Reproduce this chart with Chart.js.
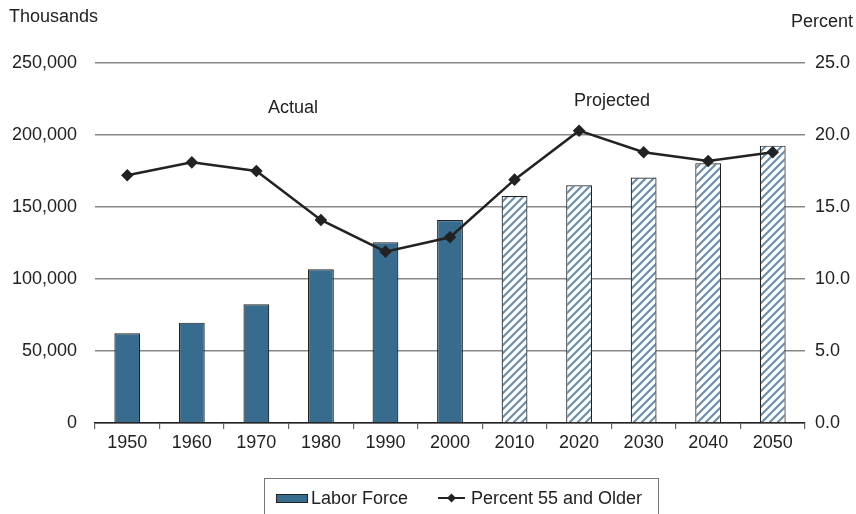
<!DOCTYPE html>
<html>
<head>
<meta charset="utf-8">
<script src="https://cdn.jsdelivr.net/npm/chart.js@4.4.0/dist/chart.umd.min.js"></script>
<style>
  body { margin: 0; background: #fff; font-family: "Liberation Sans", Arial, sans-serif; }
  #wrap { position: relative; width: 856px; height: 514px; overflow: hidden; }
  #legend {
    position: absolute; left: 264px; top: 478px; width: 395px; height: 50px;
    border: 1px solid #777; box-sizing: border-box; font-size: 18px; color: #222;
  }
  #legend .item { position: absolute; top: 8px; line-height: 22px; }
</style>
</head>
<body>
<div id="wrap">
  <canvas id="chart" width="856" height="514"></canvas>
  <div id="legend">
    <span style="position:absolute;left:11px;top:15px;width:30px;height:7px;background:#386c8e;border:1px solid #222;"></span>
    <span class="item" style="left:46px;">Labor Force</span>
    <svg style="position:absolute;left:173px;top:12px;" width="27" height="14">
      <line x1="0" y1="7" x2="27" y2="7" stroke="#222" stroke-width="2"/>
      <polygon points="13.5,2.5 18,7 13.5,11.5 9,7" fill="#222"/>
    </svg>
    <span class="item" style="left:206px;">Percent 55 and Older</span>
  </div>
</div>
<script>
// categories and values
const years = ['1950', '1960', '1970', '1980', '1990', '2000', '2010', '2020', '2030', '2040', '2050'];
const laborForce = [62300, 69700, 82400, 106700, 125500, 140900, 157600, 165100, 170400, 180400, 192600];
const pct55 = [17.2, 18.1, 17.5, 14.1, 11.9, 12.9, 16.9, 20.3, 18.8, 18.2, 18.8];
const projected = [false, false, false, false, false, false, true, true, true, true, true];

const leftTicks = [0, 50000, 100000, 150000, 200000, 250000];
const rightTicks = [0, 5, 10, 15, 20, 25];

// hatch pattern for the projected bars
function makeHatch() {
  const c = document.createElement('canvas');
  c.width = 8; c.height = 8;
  const g = c.getContext('2d');
  g.fillStyle = '#fff';
  g.fillRect(0, 0, 8, 8);
  g.strokeStyle = '#6a8fab';
  g.lineWidth = 2.2;
  g.beginPath();
  g.moveTo(-2, 10); g.lineTo(10, -2);
  g.moveTo(-2, 2); g.lineTo(2, -2);
  g.moveTo(6, 10); g.lineTo(10, 6);
  g.stroke();
  return g.createPattern(c, 'repeat');
}
const hatch = makeHatch();

const barColors = projected.map(p => p ? hatch : '#386c8e');

// text labels drawn on the canvas
const textPlugin = {
  id: 'texts',
  afterDraw(chart) {
    const ctx = chart.ctx;
    ctx.save();
    ctx.fillStyle = '#222';
    ctx.font = '18px "Liberation Sans", Arial, sans-serif';
    ctx.textBaseline = 'middle';
    ctx.textAlign = 'left';
    ctx.fillText('Thousands', 9, 17);
    ctx.textAlign = 'right';
    ctx.fillText('Percent', 853, 22);
    ctx.textAlign = 'center';
    ctx.fillText('Actual', 293, 108);
    ctx.fillText('Projected', 612, 101);
    ctx.restore();
  }
};

const ctx = document.getElementById('chart').getContext('2d');
const chart = new Chart(ctx, {
  type: 'bar',
  data: {
    labels: years,
    datasets: [
      {
        type: 'line',
        label: 'Percent 55 and Older',
        data: pct55,
        yAxisID: 'y1',
        borderColor: '#222',
        borderWidth: 2.5,
        pointStyle: 'rectRot',
        pointRadius: 4.5,
        pointBackgroundColor: '#222',
        pointBorderColor: '#222',
        tension: 0,
        order: 0
      },
      {
        label: 'Labor Force',
        data: laborForce,
        yAxisID: 'y',
        backgroundColor: barColors,
        borderColor: '#222',
        borderWidth: 1.2,
        barPercentage: 0.4,
        categoryPercentage: 1,
        order: 1
      }
    ]
  },
  options: {
    responsive: false,
    animation: false,
    layout: { padding: { left: 0, right: 0, top: 63, bottom: 61 } },
    plugins: {
      legend: { display: false },
      tooltip: { enabled: false }
    },
    scales: {
      x: {
        offset: true,
        grid: { offset: true, drawOnChartArea: false, drawTicks: true, tickLength: 6, color: '#666', lineWidth: 1.2 },
        border: { display: true, color: '#222', width: 1.5 },
        ticks: { color: '#222', font: { family: '"Liberation Sans", Arial, sans-serif', size: 18 }, padding: 3, maxRotation: 0 },
        afterFit(s) { s.height = 30; }
      },
      y: {
        position: 'left',
        min: 0, max: 250000,
        afterBuildTicks(s) { s.ticks = leftTicks.map(v => ({ value: v })); },
        grid: { color: '#888', lineWidth: 1.5, drawTicks: false },
        border: { display: false },
        ticks: {
          color: '#222', padding: 18,
          font: { family: '"Liberation Sans", Arial, sans-serif', size: 18 },
          callback: v => v === 0 ? '0' : v.toLocaleString('en-US')
        },
        afterFit(s) { s.width = 95; }
      },
      y1: {
        position: 'right',
        min: 0, max: 25,
        afterBuildTicks(s) { s.ticks = rightTicks.map(v => ({ value: v })); },
        grid: { drawOnChartArea: false, drawTicks: false },
        border: { display: false },
        ticks: {
          color: '#222', padding: 10,
          font: { family: '"Liberation Sans", Arial, sans-serif', size: 18 },
          callback: v => v.toFixed(1)
        },
        afterFit(s) { s.width = 51; }
      }
    }
  },
  plugins: [textPlugin]
});
</script>
</body>
</html>
